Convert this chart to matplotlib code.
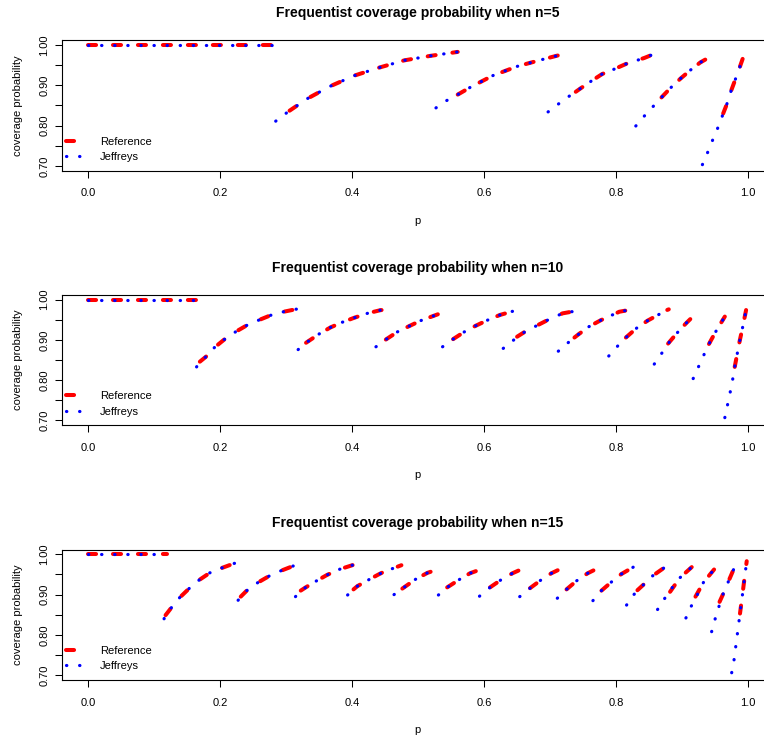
import matplotlib.pyplot as plt
import numpy as np

plt.rcParams['font.family'] = ['Liberation Sans', 'DejaVu Sans']

# sample sizes, one panel each
n_values = [5, 10, 15]

x_ticks = [0.0, 0.2, 0.4, 0.6, 0.8, 1.0]
x_ticklabels = ['0.0', '0.2', '0.4', '0.6', '0.8', '1.0']
y_ticks = [0.70, 0.75, 0.80, 0.85, 0.90, 0.95, 1.00]
y_ticklabels = ['0.70', '', '0.80', '', '0.90', '', '1.00']

# coverage curves: each list holds segments of (p, coverage)
jef_n5 = [
    [(0.0, 1.0), (0.282, 1.0)],
    [(0.284, 0.811), (0.300, 0.831), (0.332, 0.867), (0.367, 0.898), (0.403, 0.924),
     (0.441, 0.944), (0.479, 0.962), (0.518, 0.973), (0.560, 0.983)],
    [(0.527, 0.844), (0.543, 0.862), (0.560, 0.877), (0.580, 0.896), (0.613, 0.924),
     (0.650, 0.947), (0.688, 0.964), (0.721, 0.978)],
    [(0.697, 0.834), (0.713, 0.854), (0.729, 0.873), (0.745, 0.891), (0.762, 0.910),
     (0.779, 0.928), (0.797, 0.940), (0.815, 0.953), (0.843, 0.968), (0.858, 0.978)],
    [(0.830, 0.799), (0.8425, 0.823), (0.856, 0.847), (0.869, 0.870), (0.883, 0.894),
     (0.898, 0.917), (0.913, 0.938), (0.928, 0.957), (0.943, 0.971)],
    [(0.931, 0.703), (0.9386, 0.732), (0.946, 0.762), (0.954, 0.793), (0.961, 0.823),
     (0.968, 0.853), (0.974, 0.884), (0.981, 0.915), (0.987, 0.942), (0.994, 0.975)],
]
ref_n5 = [
    [(0.0, 1.0), (0.289, 1.0)],
    [(0.305, 0.837), (0.332, 0.867), (0.367, 0.898), (0.403, 0.924), (0.441, 0.944),
     (0.479, 0.962), (0.518, 0.973), (0.560, 0.983)],
    [(0.560, 0.877), (0.580, 0.896), (0.613, 0.924), (0.650, 0.947), (0.688, 0.964),
     (0.721, 0.978)],
    [(0.739, 0.884), (0.745, 0.891), (0.762, 0.910), (0.779, 0.928), (0.797, 0.940),
     (0.815, 0.953), (0.843, 0.968), (0.858, 0.978)],
    [(0.869, 0.870), (0.883, 0.894), (0.898, 0.917), (0.913, 0.938), (0.928, 0.957),
     (0.943, 0.971)],
    [(0.9625, 0.830), (0.968, 0.853), (0.974, 0.884), (0.981, 0.915), (0.987, 0.942),
     (0.994, 0.975)],
]

jef_n10 = [
    [(0.0, 1.0), (0.166, 1.0)],
    [(0.164, 0.833), (0.169, 0.846), (0.178, 0.858), (0.191, 0.881), (0.206, 0.901),
     (0.223, 0.920), (0.241, 0.937), (0.258, 0.949), (0.276, 0.961), (0.296, 0.970),
     (0.317, 0.977)],
    [(0.318, 0.876), (0.330, 0.893), (0.350, 0.915), (0.367, 0.931), (0.385, 0.944),
     (0.403, 0.955), (0.423, 0.966), (0.443, 0.974), (0.451, 0.975)],
    [(0.436, 0.883), (0.451, 0.901), (0.4685, 0.920), (0.486, 0.934), (0.504, 0.948),
     (0.537, 0.968)],
    [(0.537, 0.883), (0.553, 0.902), (0.570, 0.920), (0.587, 0.935), (0.605, 0.949),
     (0.624, 0.962), (0.643, 0.971)],
    [(0.629, 0.879), (0.645, 0.900), (0.6616, 0.920), (0.678, 0.934), (0.696, 0.949),
     (0.719, 0.966), (0.736, 0.971)],
    [(0.7125, 0.872), (0.728, 0.894), (0.744, 0.915), (0.759, 0.933), (0.777, 0.949),
     (0.805, 0.970), (0.815, 0.973)],
    [(0.789, 0.860), (0.8026, 0.885), (0.815, 0.906), (0.831, 0.929), (0.848, 0.948),
     (0.877, 0.974), (0.880, 0.976)],
    [(0.858, 0.840), (0.869, 0.866), (0.879, 0.891), (0.893, 0.918), (0.906, 0.941),
     (0.919, 0.962)],
    [(0.917, 0.804), (0.925, 0.833), (0.933, 0.862), (0.941, 0.890), (0.951, 0.920),
     (0.965, 0.958)],
    [(0.965, 0.707), (0.969, 0.738), (0.973, 0.769), (0.977, 0.803), (0.980, 0.833),
     (0.9876, 0.898), (0.9917, 0.929), (0.9993, 0.991)],
]
ref_n10 = [
    [(0.0, 1.0), (0.172, 1.0)],
    [(0.169, 0.846), (0.178, 0.858), (0.191, 0.881), (0.206, 0.901), (0.223, 0.920),
     (0.241, 0.937), (0.258, 0.949), (0.276, 0.961), (0.296, 0.970), (0.317, 0.977)],
    [(0.330, 0.893), (0.350, 0.915), (0.367, 0.931), (0.385, 0.944), (0.403, 0.955),
     (0.423, 0.966), (0.443, 0.974), (0.451, 0.975)],
    [(0.451, 0.901), (0.4685, 0.920), (0.486, 0.934), (0.504, 0.948), (0.537, 0.968)],
    [(0.553, 0.902), (0.570, 0.920), (0.587, 0.935), (0.605, 0.949), (0.624, 0.962),
     (0.643, 0.971)],
    [(0.650, 0.908), (0.6616, 0.920), (0.678, 0.934), (0.696, 0.949), (0.719, 0.966),
     (0.736, 0.971)],
    [(0.737, 0.906), (0.744, 0.915), (0.759, 0.933), (0.777, 0.949), (0.805, 0.970),
     (0.815, 0.973)],
    [(0.815, 0.906), (0.831, 0.929), (0.848, 0.948), (0.877, 0.974), (0.880, 0.976)],
    [(0.879, 0.891), (0.893, 0.918), (0.906, 0.941), (0.919, 0.962)],
    [(0.941, 0.890), (0.951, 0.920), (0.965, 0.958)],
    [(0.980, 0.833), (0.9876, 0.898), (0.9917, 0.929), (0.9993, 0.991)],
]

jef_n15 = [
    [(0.0, 1.0), (0.113, 1.0)],
    [(0.1147, 0.840), (0.117, 0.849), (0.126, 0.868), (0.138, 0.892), (0.1526, 0.915),
     (0.1677, 0.936), (0.184, 0.954), (0.202, 0.966), (0.222, 0.978)],
    [(0.227, 0.886), (0.231, 0.895), (0.242, 0.913), (0.257, 0.930), (0.274, 0.946),
     (0.2916, 0.959), (0.312, 0.972)],
    [(0.314, 0.895), (0.322, 0.910), (0.3295, 0.918), (0.3457, 0.934), (0.362, 0.949),
     (0.381, 0.963), (0.402, 0.974)],
    [(0.393, 0.899), (0.402, 0.913), (0.4078, 0.921), (0.424, 0.936), (0.441, 0.951),
     (0.451, 0.959), (0.460, 0.964), (0.4746, 0.973)],
    [(0.4634, 0.900), (0.476, 0.915), (0.496, 0.938), (0.514, 0.954), (0.523, 0.959)],
    [(0.5307, 0.899), (0.544, 0.918), (0.563, 0.938), (0.5786, 0.953), (0.592, 0.961)],
    [(0.593, 0.896), (0.609, 0.918), (0.625, 0.936), (0.643, 0.953), (0.6566, 0.963)],
    [(0.654, 0.895), (0.6696, 0.916), (0.686, 0.936), (0.702, 0.953), (0.716, 0.964)],
    [(0.711, 0.891), (0.725, 0.913), (0.740, 0.934), (0.757, 0.953), (0.773, 0.966)],
    [(0.765, 0.885), (0.778, 0.910), (0.7935, 0.932), (0.808, 0.951), (0.827, 0.969)],
    [(0.816, 0.874), (0.827, 0.900), (0.8425, 0.926), (0.855, 0.946), (0.875, 0.969)],
    [(0.863, 0.863), (0.874, 0.891), (0.8855, 0.918), (0.897, 0.942), (0.918, 0.973)],
    [(0.906, 0.842), (0.914, 0.871), (0.9234, 0.900), (0.9325, 0.930), (0.954, 0.973)],
    [(0.945, 0.808), (0.950, 0.838), (0.956, 0.870), (0.962, 0.900), (0.970, 0.931),
     (0.980, 0.969)],
    [(0.9754, 0.706), (0.9789, 0.737), (0.9814, 0.769), (0.984, 0.802), (0.9865, 0.834),
     (0.989, 0.866), (0.9916, 0.898), (0.994, 0.930), (0.9982, 0.983)],
]
ref_n15 = [
    [(0.0, 1.0), (0.119, 1.0)],
    [(0.117, 0.849), (0.126, 0.868), (0.138, 0.892), (0.1526, 0.915), (0.1677, 0.936),
     (0.184, 0.954), (0.202, 0.966), (0.222, 0.978)],
    [(0.231, 0.895), (0.242, 0.913), (0.257, 0.930), (0.274, 0.946), (0.2916, 0.959),
     (0.312, 0.972)],
    [(0.322, 0.910), (0.3295, 0.918), (0.3457, 0.934), (0.362, 0.949), (0.381, 0.963),
     (0.402, 0.974)],
    [(0.402, 0.913), (0.4078, 0.921), (0.424, 0.936), (0.441, 0.951), (0.451, 0.959),
     (0.460, 0.964), (0.4746, 0.973)],
    [(0.476, 0.915), (0.496, 0.938), (0.514, 0.954), (0.523, 0.959)],
    [(0.544, 0.918), (0.563, 0.938), (0.5786, 0.953), (0.592, 0.961)],
    [(0.609, 0.918), (0.625, 0.936), (0.643, 0.953), (0.6566, 0.963)],
    [(0.6696, 0.916), (0.686, 0.936), (0.702, 0.953), (0.716, 0.964)],
    [(0.725, 0.913), (0.740, 0.934), (0.757, 0.953), (0.773, 0.966)],
    [(0.778, 0.910), (0.7935, 0.932), (0.808, 0.951), (0.827, 0.969)],
    [(0.8325, 0.911), (0.8425, 0.926), (0.855, 0.946), (0.875, 0.969)],
    [(0.882, 0.907), (0.897, 0.942), (0.918, 0.973)],
    [(0.9205, 0.895), (0.9325, 0.930), (0.954, 0.973)],
    [(0.957, 0.882), (0.962, 0.900), (0.970, 0.931), (0.980, 0.969)],
    [(0.988, 0.853), (0.9916, 0.898), (0.994, 0.930), (0.9982, 0.983)],
]

ref_all = [ref_n5, ref_n10, ref_n15]
jef_all = [jef_n5, jef_n10, jef_n15]

fig = plt.figure(figsize=(7.64, 7.38), dpi=100)
panel_bottoms = [0.7687, 0.4237, 0.0786]

for n, ref, jef, bottom in zip(n_values, ref_all, jef_all, panel_bottoms):
    # the plot box is cut at the right edge of the picture, as in the original
    ax = fig.add_axes([0.0812, bottom, 0.9188, 0.1768])

    for i, seg in enumerate(ref):
        p, cov = np.array(seg).T
        ax.plot(p, cov, color='red', lw=2.9, dashes=(2.0, 4.2),
                dash_capstyle='round', solid_capstyle='round',
                label='Reference' if i == 0 else None)
    for i, seg in enumerate(jef):
        p, cov = np.array(seg).T
        ax.plot(p, cov, color='blue', lw=2.3, dashes=(0.1, 4.0),
                dash_capstyle='round',
                label='Jeffreys' if i == 0 else None)

    ax.set_xlim(-0.04, 1.0244)
    ax.set_ylim(0.688, 1.012)
    ax.set_xticks(x_ticks)
    ax.set_xticklabels(x_ticklabels)
    ax.set_yticks(y_ticks)
    ax.set_yticklabels(y_ticklabels)
    ax.tick_params(axis='both', length=4.7, width=0.75, labelsize=8, direction='out')
    ax.tick_params(axis='x', pad=8)
    ax.tick_params(axis='y', pad=4.5, labelrotation=90)
    for lab in ax.get_yticklabels():
        lab.set_va('center')
    for sp in ax.spines.values():
        sp.set_linewidth(0.8)
    ax.spines['right'].set_visible(False)

    # centred on the full (uncropped) plot box
    ax.set_title(f'Frequentist coverage probability when n={n}',
                 fontsize=10, fontweight='bold', pad=16.5, x=0.5068)
    ax.set_xlabel('p', fontsize=8)
    ax.xaxis.set_label_coords(0.5068, -0.345)
    ax.set_ylabel('coverage probability', fontsize=8)
    ax.yaxis.set_label_coords(-0.0557, 0.5)

    ax.legend(loc='lower left', bbox_to_anchor=(0.0057, 0.066), frameon=False,
              fontsize=8, handlelength=1.44, handletextpad=1.62,
              borderpad=0, borderaxespad=0, labelspacing=0.48)

fig.savefig('out.png', dpi=100)
